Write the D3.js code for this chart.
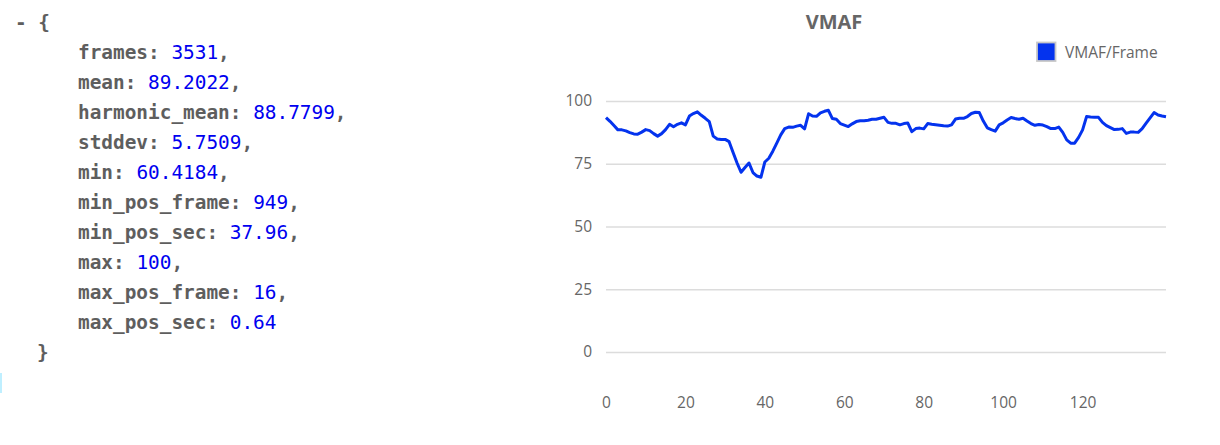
<!DOCTYPE html>
<html>
<head>
<meta charset="utf-8">
<script src="https://cdn.jsdelivr.net/npm/d3@7"></script>
<style>
  html, body { margin: 0; padding: 0; background: #fff; }
  svg { display: block; }
</style>
</head>
<body>
<svg id="chart" width="1220" height="445"></svg>
<script>
// ---- data ----
const jsonKeys = ["frames", "mean", "harmonic_mean", "stddev", "min", "min_pos_frame", "min_pos_sec", "max", "max_pos_frame", "max_pos_sec"];
const jsonValues = ["3531", "89.2022", "88.7799", "5.7509", "60.4184", "949", "37.96", "100", "16", "0.64"];

const chartTitle = "VMAF";
const seriesName = "VMAF/Frame";
const vmaf = [
  93.4, 91.9, 90.2, 88.5, 88.5, 88.1, 87.4, 86.9, 86.8, 87.6,
  88.6, 88.2, 87.0, 86.0, 87.0, 88.6, 90.7, 89.7, 90.7, 91.3,
  90.5, 94.0, 95.0, 95.7, 94.3, 93.1, 91.8, 86.0, 84.9, 84.7,
  84.7, 83.8, 79.5, 75.3, 71.6, 73.5, 75.3, 71.5, 70.1, 69.6,
  75.7, 77.2, 80.0, 83.2, 86.5, 89.0, 89.6, 89.5, 90.0, 90.3,
  88.9, 94.9, 94.0, 93.9, 95.3, 95.9, 96.3, 93.0, 92.7, 91.0,
  90.4, 89.8, 90.9, 91.8, 92.1, 92.1, 92.3, 92.7, 92.7, 93.1,
  93.5, 91.5, 91.1, 91.1, 90.5, 91.0, 91.2, 87.8, 89.0, 89.2,
  88.9, 91.0, 90.7, 90.5, 90.3, 90.1, 90.0, 90.5, 92.8, 93.1,
  93.1, 93.8, 95.0, 95.5, 95.4, 92.0, 89.3, 88.6, 88.0, 90.5,
  91.3, 92.4, 93.4, 93.0, 92.7, 93.1, 92.0, 91.0, 90.3, 90.6,
  90.4, 89.8, 89.0, 89.0, 89.6, 87.5, 84.5, 83.2, 83.2, 85.5,
  88.5, 93.8, 93.6, 93.5, 93.5, 91.5, 90.2, 89.4, 88.6, 88.7,
  89.0, 87.1, 87.6, 87.6, 87.5, 89.0, 91.2, 93.3, 95.4, 94.4,
  94.0, 93.7
];
const yTicks = [0, 25, 50, 75, 100];
const xTicks = [0, 20, 40, 60, 80, 100, 120];

// ---- drawing ----
const svg = d3.select("#chart");

// left JSON pane
const mono = "'DejaVu Sans Mono', 'Liberation Mono', monospace";
const jsonFont = 19.4;
const grayText = "#5e5e5e";
const blueText = "#0000f0";

svg.append("rect").attr("x", 0).attr("y", 373).attr("width", 2).attr("height", 20).attr("fill", "#bfefff");

svg.append("text")
  .attr("x", 15).attr("y", 29)
  .attr("font-family", mono).attr("font-size", jsonFont)
  .attr("font-weight", "bold").attr("fill", grayText)
  .style("white-space", "pre")
  .text("- {");

const rows = svg.append("g").selectAll("text")
  .data(jsonKeys.map((k, i) => ({ k, v: jsonValues[i], last: i === jsonKeys.length - 1 })))
  .join("text")
  .attr("x", 78)
  .attr("y", (d, i) => 59 + 30 * i)
  .attr("font-family", mono).attr("font-size", jsonFont)
  .style("white-space", "pre");

rows.append("tspan").attr("font-weight", "bold").attr("fill", grayText).text(d => d.k + ": ");
rows.append("tspan").attr("fill", blueText).text(d => d.v);
rows.append("tspan").attr("font-weight", "bold").attr("fill", grayText).text(d => d.last ? "" : ",");

svg.append("text")
  .attr("x", 37).attr("y", 29 + 30 * 11)
  .attr("font-family", mono).attr("font-size", jsonFont)
  .attr("font-weight", "bold").attr("fill", grayText)
  .text("}");

// chart
const sans = "'Open Sans', 'Noto Sans', sans-serif";
const lineColor = "#0433ee";
const x = d3.scaleLinear().domain([0, vmaf.length - 1]).range([606, 1166]);
const y = d3.scaleLinear().domain([0, 100]).range([352, 101]);

// title
svg.append("text")
  .attr("x", 834).attr("y", 29)
  .attr("text-anchor", "middle")
  .attr("font-family", sans).attr("font-size", 20).attr("font-weight", "bold")
  .attr("fill", "#666")
  .text(chartTitle);

// legend
svg.append("rect")
  .attr("x", 1037).attr("y", 42.5).attr("width", 18.5).attr("height", 18.5)
  .attr("fill", lineColor).attr("stroke", "#c8c8c8").attr("stroke-width", 1.8);
svg.append("text")
  .attr("x", 1065).attr("y", 57.5)
  .attr("font-family", sans).attr("font-size", 15.5)
  .attr("fill", "#666")
  .text(seriesName);

// y gridlines + labels
const yAxis = d3.axisLeft(y).tickValues(yTicks).tickSize(-(1166 - 606)).tickPadding(14);
const gy = svg.append("g").attr("transform", "translate(606,0)").call(yAxis);
gy.select(".domain").remove();
gy.selectAll(".tick line").attr("stroke", "#dcdcdc").attr("stroke-width", 1.5);
gy.selectAll(".tick text")
  .attr("font-family", sans).attr("font-size", 15.5).attr("fill", "#666");

// x labels
const xAxis = d3.axisBottom(x).tickValues(xTicks).tickSize(0).tickPadding(0).tickFormat(d3.format("d"));
const gx = svg.append("g").attr("transform", "translate(0,397)").call(xAxis);
gx.select(".domain").remove();
gx.selectAll(".tick text")
  .attr("font-family", sans).attr("font-size", 15.5).attr("fill", "#666");

// line
svg.append("path")
  .datum(vmaf)
  .attr("fill", "none")
  .attr("stroke", lineColor)
  .attr("stroke-width", 3)
  .attr("stroke-linejoin", "round")
  .attr("d", d3.line().x((d, i) => x(i)).y(d => y(d)));
</script>
</body>
</html>
